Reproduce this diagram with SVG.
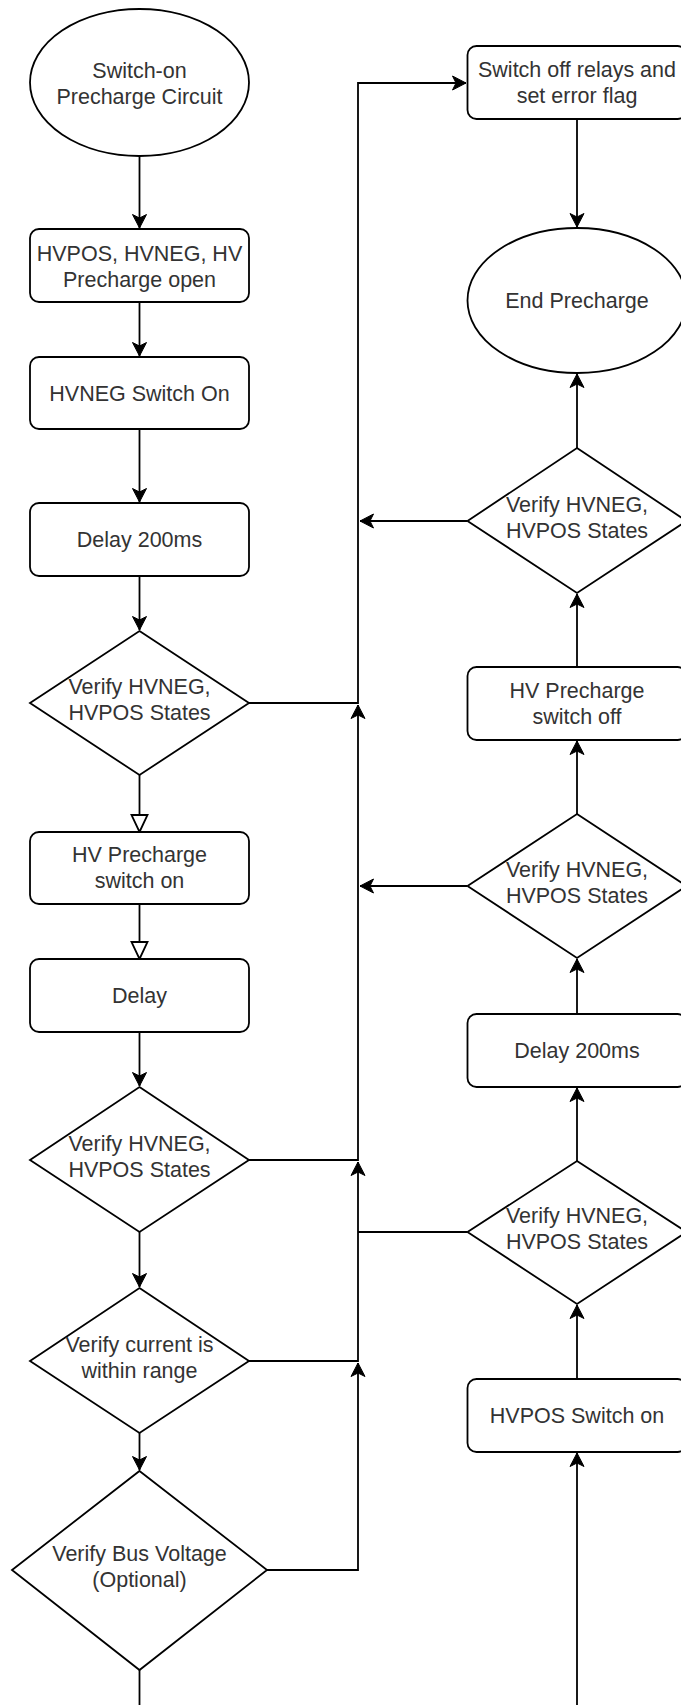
<svg xmlns="http://www.w3.org/2000/svg" width="681" height="1705" viewBox="0 0 681 1705">
<style>
.n{fill:#fff;stroke:#000;stroke-width:1.8}
.t{font-family:"Liberation Sans",Arial,sans-serif;font-size:21.5px;fill:#333;text-anchor:middle}
.e{fill:none;stroke:#000;stroke-width:1.8}
.a{marker-end:url(#arr)}
.h{marker-end:url(#hol)}
</style>
<defs>
<marker id="arr" markerUnits="userSpaceOnUse" viewBox="-15 -8 16 16" refX="0" refY="0" markerWidth="16" markerHeight="16" orient="auto">
<path d="M0,0 L-13.5,-7 L-10,0 L-13.5,7 Z" fill="#000" stroke="#000" stroke-width="1"/>
</marker>
<marker id="hol" markerUnits="userSpaceOnUse" viewBox="-1 -10 20 20" refX="0" refY="0" markerWidth="20" markerHeight="20" orient="auto">
<path d="M17,0 L0,-8 L0,8 Z" fill="#fff" stroke="#000" stroke-width="1.8"/>
</marker>
</defs>
<rect width="681" height="1705" fill="#fff"/>
<g id="connectors">
<path class="e a" d="M139.5,156 V228"/>
<path class="e a" d="M139.5,302 V356"/>
<path class="e a" d="M139.5,429 V502"/>
<path class="e a" d="M139.5,576 V630"/>
<path class="e h" d="M139.5,775 V815"/>
<path class="e h" d="M139.5,904 V942"/>
<path class="e a" d="M139.5,1032 V1086"/>
<path class="e a" d="M139.5,1232 V1287"/>
<path class="e a" d="M139.5,1433 V1470"/>
<path class="e" d="M139.5,1670 V1705"/>
<path class="e a" d="M248,703 H358 V83 H466"/>
<path class="e a" d="M248,1160 H358 V705"/>
<path class="e a" d="M248,1361 H358 V1162"/>
<path class="e a" d="M267,1570 H358 V1363"/>
<path class="e" d="M467,1232 H358"/>
<path class="e a" d="M467,521 H360"/>
<path class="e a" d="M467,886 H360"/>
<path class="e a" d="M577,119 V227"/>
<path class="e a" d="M577,448 V374"/>
<path class="e a" d="M577,667 V594"/>
<path class="e a" d="M577,814 V741"/>
<path class="e a" d="M577,1014 V959"/>
<path class="e a" d="M577,1161 V1088"/>
<path class="e a" d="M577,1379 V1305"/>
<path class="e a" d="M577,1705 V1453"/>
</g>
<g id="start">
<ellipse class="n" cx="139.5" cy="82.5" rx="109.5" ry="73.5"/>
<text class="t" x="139.5" y="78">Switch-on</text>
<text class="t" x="139.5" y="104">Precharge Circuit</text>
</g>
<g id="open">
<rect class="n" x="30" y="229" width="219" height="73" rx="9"/>
<text class="t" x="139.5" y="260.5">HVPOS, HVNEG, HV</text>
<text class="t" x="139.5" y="286.5">Precharge open</text>
</g>
<g id="hvneg-on">
<rect class="n" x="30" y="357" width="219" height="72" rx="9"/>
<text class="t" x="139.5" y="400.5">HVNEG Switch On</text>
</g>
<g id="delay1">
<rect class="n" x="30" y="503" width="219" height="73" rx="9"/>
<text class="t" x="139.5" y="547">Delay 200ms</text>
</g>
<g id="verify1">
<polygon class="n" points="139.5,631 249,703 139.5,775 30,703"/>
<text class="t" x="139.5" y="693.5">Verify HVNEG,</text>
<text class="t" x="139.5" y="719.5">HVPOS States</text>
</g>
<g id="pre-on">
<rect class="n" x="30" y="832" width="219" height="72" rx="9"/>
<text class="t" x="139.5" y="862">HV Precharge</text>
<text class="t" x="139.5" y="888">switch on</text>
</g>
<g id="delay2">
<rect class="n" x="30" y="959" width="219" height="73" rx="9"/>
<text class="t" x="139.5" y="1003">Delay</text>
</g>
<g id="verify2">
<polygon class="n" points="139.5,1087 249,1160 139.5,1232 30,1160"/>
<text class="t" x="139.5" y="1150.5">Verify HVNEG,</text>
<text class="t" x="139.5" y="1176.5">HVPOS States</text>
</g>
<g id="verify-current">
<polygon class="n" points="139.5,1288 249,1361 139.5,1433 30,1361"/>
<text class="t" x="139.5" y="1351.5">Verify current is</text>
<text class="t" x="139.5" y="1377.5">within range</text>
</g>
<g id="verify-bus">
<polygon class="n" points="139.5,1471 267,1570 139.5,1670 12,1570"/>
<text class="t" x="139.5" y="1560.5">Verify Bus Voltage</text>
<text class="t" x="139.5" y="1586.5">(Optional)</text>
</g>
<g id="error">
<rect class="n" x="467.5" y="46" width="219" height="73" rx="9"/>
<text class="t" x="577" y="77">Switch off relays and</text>
<text class="t" x="577" y="103">set error flag</text>
</g>
<g id="end">
<ellipse class="n" cx="577" cy="300.5" rx="109.5" ry="72.5"/>
<text class="t" x="577" y="308">End Precharge</text>
</g>
<g id="verify-r1">
<polygon class="n" points="577,448 686.5,521 577,593 467.5,521"/>
<text class="t" x="577" y="511.5">Verify HVNEG,</text>
<text class="t" x="577" y="537.5">HVPOS States</text>
</g>
<g id="pre-off">
<rect class="n" x="467.5" y="667" width="219" height="73" rx="9"/>
<text class="t" x="577" y="698">HV Precharge</text>
<text class="t" x="577" y="724">switch off</text>
</g>
<g id="verify-r2">
<polygon class="n" points="577,814 686.5,886 577,958 467.5,886"/>
<text class="t" x="577" y="876.5">Verify HVNEG,</text>
<text class="t" x="577" y="902.5">HVPOS States</text>
</g>
<g id="delay3">
<rect class="n" x="467.5" y="1014" width="219" height="73" rx="9"/>
<text class="t" x="577" y="1058">Delay 200ms</text>
</g>
<g id="verify-r3">
<polygon class="n" points="577,1161 686.5,1232 577,1304 467.5,1232"/>
<text class="t" x="577" y="1222.5">Verify HVNEG,</text>
<text class="t" x="577" y="1248.5">HVPOS States</text>
</g>
<g id="hvpos-on">
<rect class="n" x="467.5" y="1379" width="219" height="73" rx="9"/>
<text class="t" x="577" y="1423">HVPOS Switch on</text>
</g>
</svg>
